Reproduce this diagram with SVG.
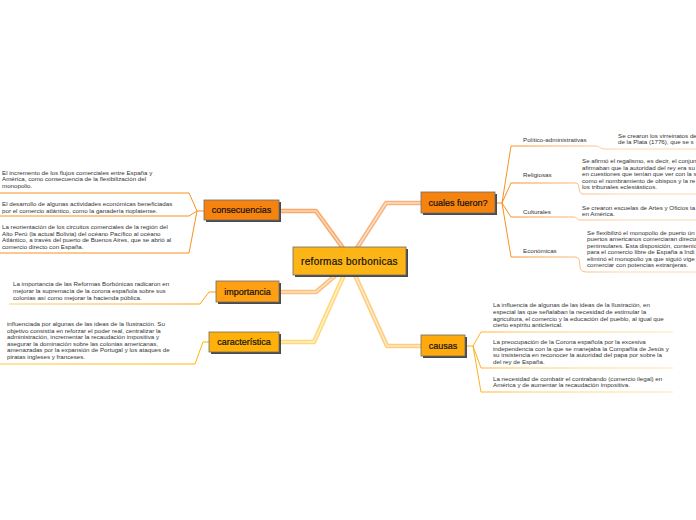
<svg xmlns="http://www.w3.org/2000/svg" width="696" height="520" viewBox="0 0 696 520">
<defs>
<linearGradient id="gRight" gradientUnits="userSpaceOnUse" x1="502" y1="0" x2="625" y2="0">
<stop offset="0" stop-color="#F78E18"/><stop offset="0.55" stop-color="#F9B678"/><stop offset="1" stop-color="#FCD8B4"/>
</linearGradient>
<linearGradient id="gCausas" gradientUnits="userSpaceOnUse" x1="473" y1="0" x2="673" y2="0">
<stop offset="0" stop-color="#FFAE1A"/><stop offset="0.3" stop-color="#FFCF70"/><stop offset="1" stop-color="#FFE6B2"/>
</linearGradient>
<linearGradient id="gImp" gradientUnits="userSpaceOnUse" x1="216" y1="0" x2="9" y2="0">
<stop offset="0" stop-color="#FFA000"/><stop offset="1" stop-color="#FFCF70"/>
</linearGradient>
<linearGradient id="gCar" gradientUnits="userSpaceOnUse" x1="209" y1="0" x2="0" y2="0">
<stop offset="0" stop-color="#FFB400"/><stop offset="1" stop-color="#FFC840"/>
</linearGradient>
</defs>
<style>
.main{fill:none;stroke-linejoin:round;stroke-linecap:butt}
.sub{fill:none;stroke-width:1;stroke-linejoin:round}
.shadow{fill:#4a4a4a}
.box{stroke:#6b6b6b;stroke-width:0.8}
.lbl{font-family:"Liberation Sans",Arial,sans-serif;font-size:9px;fill:#111;text-anchor:middle;stroke:#111;stroke-width:0.2}
.ctr{font-size:10px;letter-spacing:0.3px}
.t{font-family:"Liberation Sans",Arial,sans-serif;font-size:6.2px;fill:#333}
</style>
<rect width="696" height="520" fill="#ffffff"/>
<g id="connectors">
<path class="main" d="M343,248 L316,211 L280,211" stroke="#F8A868" stroke-width="4.5"/>
<path class="main" d="M343,248 L316,211 L280,211" stroke="#FCD6B2" stroke-width="1.6"/>
<path class="main" d="M357,248 L386,203 L421,203" stroke="#F9B27C" stroke-width="4.5"/>
<path class="main" d="M357,248 L386,203 L421,203" stroke="#FCDDC2" stroke-width="1.6"/>
<path class="main" d="M336,275 L316,292 L280,292" stroke="#FCC07E" stroke-width="4.5"/>
<path class="main" d="M336,275 L316,292 L280,292" stroke="#FDE3C4" stroke-width="1.6"/>
<path class="main" d="M344,275 L314,342 L280,342" stroke="#FFD878" stroke-width="4.5"/>
<path class="main" d="M344,275 L314,342 L280,342" stroke="#FFF0C8" stroke-width="1.6"/>
<path class="main" d="M355,275 L387,346 L421,346" stroke="#FFCC80" stroke-width="4.5"/>
<path class="main" d="M355,275 L387,346 L421,346" stroke="#FFEAC6" stroke-width="1.6"/>
<path class="sub" stroke="#F7931E" d="M204,211 L197,211 L189,193 L0,193"/>
<path class="sub" stroke="#F7931E" d="M197,211 L189,216 L0,216"/>
<path class="sub" stroke="#F7931E" d="M197,211 L189,253 L0,253"/>
<path class="sub" stroke="url(#gImp)" d="M216,292 L209,292 L200,304 L9,304"/>
<path class="sub" stroke="url(#gCar)" d="M209,342 L203,342 L195,364 L0,364"/>
<path class="sub" stroke="url(#gRight)" d="M495,203 L502,203 L511,146 L596,146 C600,146 600,149 604,149 L696,149"/>
<path class="sub" stroke="url(#gRight)" d="M502,203 L511,183 L576,183 C581,183 577,194 583,194 L696,194"/>
<path class="sub" stroke="url(#gRight)" d="M502,203 L511,217 L573,217 C578,217 576,220 581,220 L696,220"/>
<path class="sub" stroke="url(#gRight)" d="M502,203 L511,257 L575,257 C584,257 575,272 586,272 L696,272"/>
<path class="sub" stroke="url(#gCausas)" d="M465,346 L473,346 L481,332 L673,332"/>
<path class="sub" stroke="url(#gCausas)" d="M473,346 L481,368 L673,368"/>
<path class="sub" stroke="url(#gCausas)" d="M473,346 L481,392 L673,392"/>
</g>
<g id="node-central">
<rect class="shadow" x="295" y="249" width="113" height="28"/>
<rect class="box" x="293" y="247" width="113" height="28" fill="#FDB515"/>
<text class="lbl ctr" x="349.5" y="264.5">reformas borbonicas</text>
</g>
<g id="node-consecuencias">
<rect class="shadow" x="206" y="202" width="75" height="20"/>
<rect class="box" x="204" y="200" width="75" height="20" fill="#F7830F"/>
<text class="lbl" x="241.5" y="213.3">consecuencias</text>
</g>
<g id="node-cuales">
<rect class="shadow" x="423" y="194" width="74" height="21"/>
<rect class="box" x="421" y="192" width="74" height="21" fill="#F7830F"/>
<text class="lbl" x="458" y="205.8">cuales fueron?</text>
</g>
<g id="node-importancia">
<rect class="shadow" x="218" y="283" width="63" height="21"/>
<rect class="box" x="216" y="281" width="63" height="21" fill="#FF9F12"/>
<text class="lbl" x="247.5" y="294.8">importancia</text>
</g>
<g id="node-caracteristica">
<rect class="shadow" x="211" y="334" width="70" height="20"/>
<rect class="box" x="209" y="332" width="70" height="20" fill="#FFB10A"/>
<text class="lbl" x="244" y="345.3">característica</text>
</g>
<g id="node-causas">
<rect class="shadow" x="423" y="337" width="44" height="21"/>
<rect class="box" x="421" y="335" width="44" height="21" fill="#FFAA0C"/>
<text class="lbl" x="443" y="348.8">causas</text>
</g>
<g id="cons-1"><text class="t"><tspan x="2" y="174.5">El incremento de los flujos comerciales entre España y</tspan><tspan x="2" y="181">América, como consecuencia de la flexibilización del</tspan><tspan x="2" y="187.5">monopolio.</tspan></text></g>
<g id="cons-2"><text class="t"><tspan x="2" y="205.5">El desarrollo de algunas actividades económicas beneficiadas</tspan><tspan x="2" y="212.5">por el comercio atlántico, como la ganadería rioplatense.</tspan></text></g>
<g id="cons-3"><text class="t"><tspan x="2" y="229">La reorientación de los circuitos comerciales de la región del</tspan><tspan x="2" y="235.6">Alto Perú (la actual Bolivia) del océano Pacífico al océano</tspan><tspan x="2" y="242.2">Atlántico, a través del puerto de Buenos Aires, que se abrió al</tspan><tspan x="2" y="248.8">comercio directo con España.</tspan></text></g>
<g id="imp-1"><text class="t"><tspan x="13" y="286.3">La importancia de las Reformas Borbónicas radicaron en</tspan><tspan x="13" y="293">mejorar la supremacía de la corona española sobre sus</tspan><tspan x="13" y="299.7">colonias así como mejorar la hacienda pública.</tspan></text></g>
<g id="car-1"><text class="t"><tspan x="7" y="326">influenciada por algunas de las ideas de la Ilustración. Su</tspan><tspan x="7" y="332.6">objetivo consistía en reforzar el poder real, centralizar la</tspan><tspan x="7" y="339.2">administración, incrementar la recaudación impositiva y</tspan><tspan x="7" y="345.8">asegurar la dominación sobre las colonias americanas,</tspan><tspan x="7" y="352.4">amenazadas por la expansión de Portugal y los ataques de</tspan><tspan x="7" y="359">piratas ingleses y franceses.</tspan></text></g>
<g id="cf-politico"><text class="t" x="523" y="141.5">Político-administrativas</text><text class="t"><tspan x="618" y="138.3">Se crearon los virreinatos de</tspan><tspan x="618" y="144.3">de la Plata (1776), que se s</tspan></text></g>
<g id="cf-religiosas"><text class="t" x="523" y="177">Religiosas</text><text class="t"><tspan x="582" y="163.3">Se afirmó el regalismo, es decir, el conjun</tspan><tspan x="582" y="169.8">afirmaban que la autoridad del rey era su</tspan><tspan x="582" y="176.3">en cuestiones que tenían que ver con la s</tspan><tspan x="582" y="182.8">como el nombramiento de obispos y la re</tspan><tspan x="582" y="189.3">los tribunales eclesiásticos.</tspan></text></g>
<g id="cf-culturales"><text class="t" x="523" y="213.5">Culturales</text><text class="t"><tspan x="582" y="209.7">Se crearon escuelas de Artes y Oficios ta</tspan><tspan x="582" y="216">en América.</tspan></text></g>
<g id="cf-economicas"><text class="t" x="523" y="252.5">Económicas</text><text class="t"><tspan x="587" y="234.5">Se flexibilizó el monopolio de puerto ún</tspan><tspan x="587" y="241">puertos americanos comerciaran directa</tspan><tspan x="587" y="247.5">peninsulares. Esta disposición, contenid</tspan><tspan x="587" y="254">para el comercio libre de España a Indi</tspan><tspan x="587" y="260.5">eliminó el monopolio ya que siguió vige</tspan><tspan x="587" y="267">comerciar con potencias extranjeras.</tspan></text></g>
<g id="causa-1"><text class="t"><tspan x="493" y="307.3">La influencia de algunas de las ideas de la Ilustración, en</tspan><tspan x="493" y="313.9">especial las que señalaban la necesidad de estimular la</tspan><tspan x="493" y="320.5">agricultura, el comercio y la educación del pueblo, al igual que</tspan><tspan x="493" y="327.1">cierto espíritu anticlerical.</tspan></text></g>
<g id="causa-2"><text class="t"><tspan x="493" y="344">La preocupación de la Corona española por la excesiva</tspan><tspan x="493" y="350.5">independencia con la que se manejaba la Compañía de Jesús y</tspan><tspan x="493" y="357">su insistencia en reconocer la autoridad del papa por sobre la</tspan><tspan x="493" y="363.5">del rey de España.</tspan></text></g>
<g id="causa-3"><text class="t"><tspan x="493" y="380.5">La necesidad de combatir el contrabando (comercio ilegal) en</tspan><tspan x="493" y="387">América y de aumentar la recaudación impositiva.</tspan></text></g>
</svg>
